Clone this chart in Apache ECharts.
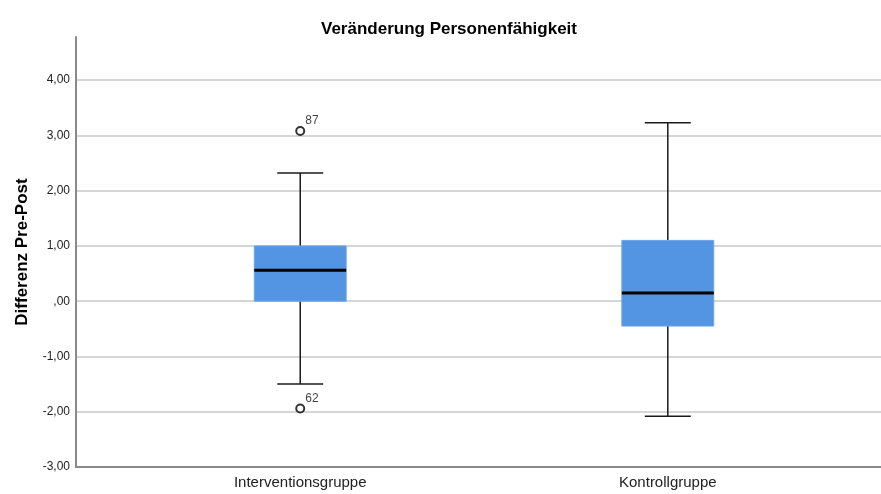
<!DOCTYPE html>
<html>
<head>
<meta charset="utf-8">
<title>Veränderung Personenfähigkeit</title>
<script src="https://cdn.jsdelivr.net/npm/echarts@6.0.0/dist/echarts.min.js"></script>
<style>
  html, body { margin: 0; padding: 0; background: #ffffff; }
  #chart { width: 881px; height: 494px; }
</style>
</head>
<body>
<div id="chart"></div>
<script>
// Groups and their box-plot statistics (difference pre - post)
const categories = ['Interventionsgruppe', 'Kontrollgruppe'];
const groupPosition = [1, 2];
const whiskerLow = [-1.50, -2.08];
const quartile1 = [0.00, -0.45];
const median = [0.56, 0.15];
const quartile3 = [1.00, 1.10];
const whiskerHigh = [2.32, 3.23];

// Outliers: group index, value, case number
const outlierGroup = [0, 0];
const outlierValue = [3.08, -1.94];
const outlierCase = ['87', '62'];

// Y axis ticks
const yTicks = [-3, -2, -1, 0, 1, 2, 3, 4];

const boxData = categories.map((c, i) => [
  groupPosition[i], whiskerLow[i], quartile1[i], median[i], quartile3[i], whiskerHigh[i]
]);
const outlierData = outlierGroup.map((g, i) => ({
  value: [groupPosition[g], outlierValue[i]],
  caseNo: outlierCase[i]
}));

function fmtDe(v) {
  let s = Math.abs(v).toFixed(2).replace('.', ',');
  if (s.startsWith('0,')) s = s.slice(1);
  return (v < 0 ? '-' : '') + s;
}

const FONT = '"Liberation Sans", Arial, sans-serif';
const BOX_WIDTH = 0.25; // in axis units
const CAP_WIDTH = 0.125;

function renderBox(params, api) {
  const x = api.value(0);
  const lo = api.coord([x, api.value(1)]);
  const q1 = api.coord([x, api.value(2)]);
  const md = api.coord([x, api.value(3)]);
  const q3 = api.coord([x, api.value(4)]);
  const hi = api.coord([x, api.value(5)]);
  const halfBox = api.size([BOX_WIDTH, 0])[0] / 2;
  const halfCap = api.size([CAP_WIDTH, 0])[0] / 2;
  const cx = lo[0];
  const lineStyle = { stroke: '#1a1a1a', lineWidth: 1.5 };
  return {
    type: 'group',
    children: [
      { type: 'line', shape: { x1: cx, y1: hi[1], x2: cx, y2: q3[1] }, style: lineStyle },
      { type: 'line', shape: { x1: cx, y1: q1[1], x2: cx, y2: lo[1] }, style: lineStyle },
      { type: 'line', shape: { x1: cx - halfCap, y1: hi[1], x2: cx + halfCap, y2: hi[1] }, style: lineStyle },
      { type: 'line', shape: { x1: cx - halfCap, y1: lo[1], x2: cx + halfCap, y2: lo[1] }, style: lineStyle },
      { type: 'rect', shape: { x: cx - halfBox, y: q3[1], width: halfBox * 2, height: q1[1] - q3[1] },
        style: { fill: '#5394e3', stroke: '#6ea4e8', lineWidth: 1 } },
      { type: 'line', shape: { x1: cx - halfBox, y1: md[1], x2: cx + halfBox, y2: md[1] },
        style: { stroke: '#000000', lineWidth: 3 } }
    ]
  };
}

const chart = echarts.init(document.getElementById('chart'), null, { renderer: 'canvas' });
chart.setOption({
  backgroundColor: '#ffffff',
  animation: false,
  title: {
    text: 'Veränderung Personenfähigkeit',
    left: 444, top: 16, textAlign: 'center',
    textStyle: { fontFamily: FONT, fontSize: 17, fontWeight: 'bold', color: '#000' }
  },
  grid: { left: 76, right: 0, top: 37, bottom: 27 },
  xAxis: {
    type: 'value',
    min: 0.39, max: 2.58,
    splitLine: { show: false },
    axisTick: { show: false },
    axisLine: { show: true, onZero: false, lineStyle: { color: '#8a8a8a', width: 2 } },
    axisLabel: {
      customValues: groupPosition,
      formatter: v => categories[groupPosition.indexOf(v)] || '',
      fontFamily: FONT, fontSize: 15, color: '#222', margin: 8
    }
  },
  yAxis: {
    type: 'value',
    min: yTicks[0], max: 4.78, interval: 1,
    name: 'Differenz Pre-Post',
    nameLocation: 'middle', nameGap: 45,
    nameTextStyle: { fontFamily: FONT, fontSize: 17, fontWeight: 'bold', color: '#000' },
    axisLine: { show: true, lineStyle: { color: '#8a8a8a', width: 2 } },
    axisTick: { show: false },
    axisLabel: {
      showMaxLabel: false,
      formatter: v => (yTicks.indexOf(v) >= 0 ? fmtDe(v) : ''),
      fontFamily: FONT, fontSize: 12, color: '#222', margin: 6,
      padding: [5, 0, 0, 0]
    },
    splitLine: { show: true, showMaxLine: false, showMinLine: false,
      lineStyle: { color: '#d6d6d6', width: 2 } }
  },
  series: [
    {
      type: 'custom',
      renderItem: renderBox,
      data: boxData,
      encode: { x: 0, y: [1, 2, 3, 4, 5] },
      z: 3
    },
    {
      type: 'scatter',
      data: outlierData,
      symbol: 'emptyCircle',
      symbolSize: 8,
      itemStyle: { color: '#000000', borderWidth: 1.2 },
      label: {
        show: true,
        formatter: p => p.data.caseNo,
        position: 'right',
        offset: [-5, -10],
        fontFamily: FONT, fontSize: 12, color: '#111'
      },
      z: 4
    }
  ]
});
</script>
</body>
</html>
